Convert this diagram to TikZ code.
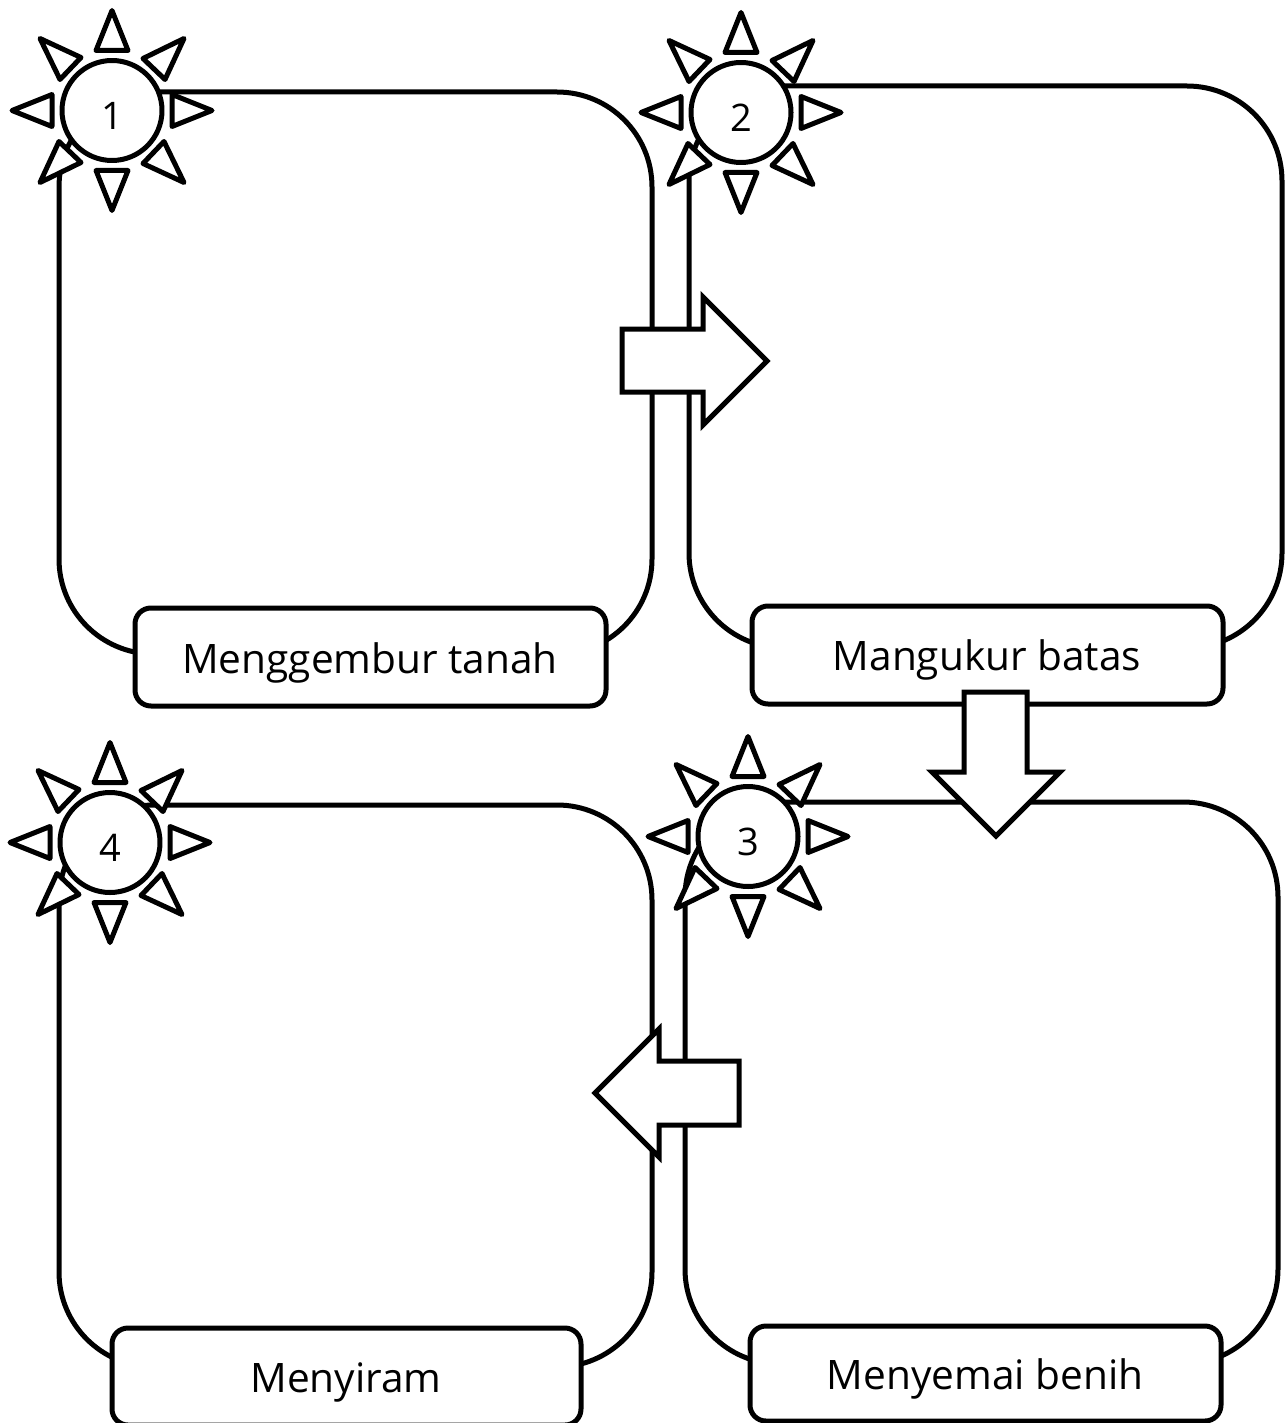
\documentclass[tikz,border=0pt]{standalone}
\usepackage{fontspec}
\setmainfont{Open Sans}
\newcommand{\sunshape}[3]{%
 \begin{scope}[shift={(#1,#2)}]
  \foreach \a in {0,90,180,270}{
   \draw[ray,rotate=\a] (100,0) -- (60,-16) -- (60,16) -- cycle;
   \draw[ray,rotate=\a] (72,-72) -- (31,-52) -- (53,-31) -- cycle;
  }
 \end{scope}
 \node[sun,label={[numlab]center:#3}] (s#3) at (#1,#2) {};}
\tikzset{
 every picture/.style={x=1pt,y=-1pt},
 lw/.style={line width=5pt,draw=black,fill=white,line join=round},
 panel/.style={lw,fill=none,rounded corners=95pt,minimum width=593pt,minimum height=562pt,inner sep=0pt,outer sep=0pt},
 caption/.style={lw,rounded corners=16pt,minimum width=471pt,minimum height=98pt,inner sep=0pt,outer sep=0pt},
 sun/.style={lw,circle,minimum size=100pt,inner sep=0pt,outer sep=0pt},
 numlab/.style={font=\fontsize{38}{42}\selectfont,inner sep=0pt,yshift=-5pt},
 ray/.style={lw},
 blockarrow/.style={lw,line join=miter},
 lab/.style={font=\fontsize{40.6}{48}\selectfont,inner sep=0pt}
}
\begin{document}
\begin{tikzpicture}
\useasboundingbox (0,0) rectangle (1287,1423);
\fill[white] (0,0) rectangle (1287,1423);
% panels
\node[panel,anchor=north west] (p1) at (59,92) {};
\node[panel,anchor=north west] (p2) at (689,86) {};
\node[panel,anchor=north west] (p3) at (685,802) {};
\node[panel,anchor=north west] (p4) at (59,805) {};
% captions
\node[caption,anchor=north west] (c1) at (135,608) {};
\node[caption,anchor=north west] (c2) at (752,606) {};
\node[caption,anchor=north west,minimum height=95pt] (c3) at (750,1326) {};
\node[caption,anchor=north west,minimum height=97pt,minimum width=469pt] (c4) at (112,1328) {};
\node[lab] (t1) at (370,663) {Menggembur tanah};
\node[lab] (t2) at (987,660) {Mangukur batas};
\node[lab] (t3) at (985,1379) {Menyemai benih};
\node[lab] (t4) at (346,1382) {Menyiram};
% suns
\sunshape{112}{110.5}{1}
\sunshape{741}{112.5}{2}
\sunshape{748}{836.5}{3}
\sunshape{110}{842.5}{4}
% block arrows
\draw[blockarrow] (622,329) -- (703,329) -- (703,297) -- (767,361) -- (703,425) -- (703,392) -- (622,392) -- cycle;
\draw[blockarrow] (964,692) -- (1027,692) -- (1027,772) -- (1060,772) -- (996,836) -- (932,772) -- (964,772) -- cycle;
\draw[blockarrow] (739,1061) -- (659,1061) -- (659,1029) -- (595,1093) -- (659,1157) -- (659,1125) -- (739,1125) -- cycle;
\end{tikzpicture}
\end{document}
